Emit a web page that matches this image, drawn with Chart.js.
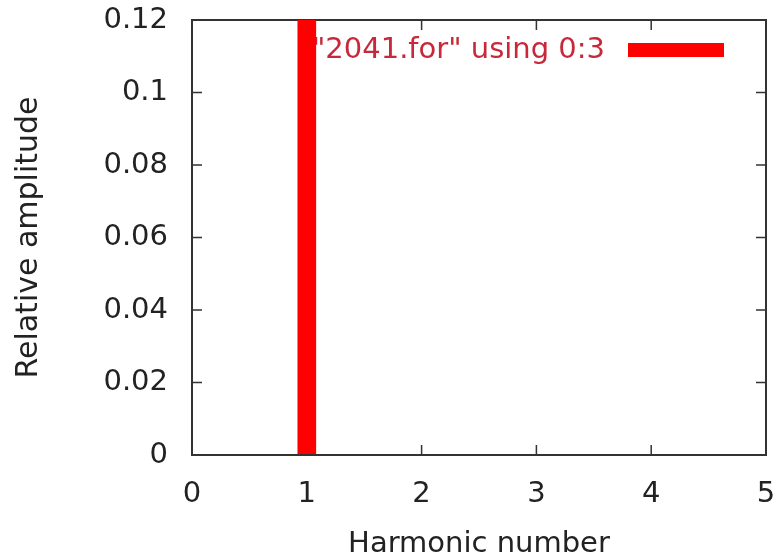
<!DOCTYPE html>
<html><head><meta charset="utf-8">
<script src="https://cdn.jsdelivr.net/npm/chart.js@4/dist/chart.umd.min.js"></script>
<style>html,body{margin:0;padding:0;background:#fff;} canvas{display:block;}</style>
</head><body>
<canvas id="c" width="780" height="558"></canvas>
<script>
const harmonics = [1];
const amplitudes = [1.0];
const seriesLabel = '"2041.for" using 0:3';
const xTickLabels = ['0', '1', '2', '3', '4', '5'];
const yTickLabels = ['0', '0.02', '0.04', '0.06', '0.08', '0.1', '0.12'];
const xTitle = 'Harmonic number';
const yTitle = 'Relative amplitude';

const FONT = "'DejaVu Sans', sans-serif";
const TEXT = '#222';
const FRAME = '#333';
const BAR = '#ff0000';
const KEYTEXT = '#c8283a';

const gnuplotFrame = {
  id: 'gnuplotFrame',
  beforeDatasetsDraw(chart) {
    const { ctx, chartArea: a, scales: { x, y } } = chart;
    ctx.save();
    ctx.strokeStyle = FRAME;
    ctx.lineWidth = 2;
    ctx.strokeRect(a.left, a.top, a.right - a.left, a.bottom - a.top);
    ctx.lineWidth = 1.5;
    const L = 10;
    ctx.beginPath();
    x.ticks.forEach(t => {
      const px = x.getPixelForValue(t.value);
      ctx.moveTo(px, a.bottom); ctx.lineTo(px, a.bottom - L);
      ctx.moveTo(px, a.top); ctx.lineTo(px, a.top + L);
    });
    y.ticks.forEach(t => {
      const py = y.getPixelForValue(t.value);
      ctx.moveTo(a.left, py); ctx.lineTo(a.left + L, py);
      ctx.moveTo(a.right, py); ctx.lineTo(a.right - L, py);
    });
    ctx.stroke();
    // gnuplot-style key
    const ds = chart.data.datasets[0];
    const keyY = a.top + 30;
    const sampleR = a.right - 42, sampleL = sampleR - 96;
    ctx.font = '29px ' + FONT;
    ctx.fillStyle = KEYTEXT;
    ctx.textAlign = 'right';
    ctx.textBaseline = 'middle';
    ctx.fillText(ds.label, sampleL - 23, keyY);
    ctx.strokeStyle = ds.backgroundColor;
    ctx.lineWidth = 14;
    ctx.lineCap = 'butt';
    ctx.beginPath(); ctx.moveTo(sampleL, keyY); ctx.lineTo(sampleR, keyY); ctx.stroke();
    ctx.restore();
  },
  afterDatasetsDraw(chart) {
    const { ctx, chartArea: a } = chart;
    ctx.save();
    ctx.strokeStyle = FRAME;
    ctx.lineWidth = 2;
    ctx.beginPath(); ctx.moveTo(a.left, a.bottom); ctx.lineTo(a.right, a.bottom); ctx.stroke();
    ctx.restore();
  }
};

new Chart(document.getElementById('c'), {
  type: 'bar',
  data: {
    datasets: [{
      label: seriesLabel,
      data: harmonics.map((h, i) => ({ x: h, y: amplitudes[i] })),
      backgroundColor: BAR,
      borderWidth: 0,
      barThickness: 18
    }]
  },
  options: {
    responsive: false,
    animation: false,
    layout: { padding: { left: 0, top: 20, right: 14, bottom: 0 } },
    plugins: { legend: { display: false }, tooltip: { enabled: false } },
    scales: {
      x: {
        type: 'linear', min: 0, max: 5, offset: false,
        grid: { display: false }, border: { display: false },
        ticks: { stepSize: 1, color: TEXT, font: { family: FONT, size: 29 }, padding: 14,
                 maxRotation: 0, autoSkip: false, callback: (v, i) => xTickLabels[i] },
        title: { display: true, text: xTitle, color: TEXT, font: { family: FONT, size: 29 },
                 padding: { top: 0, bottom: -4 } },
        afterFit(s) { s.height = 103; s.paddingLeft = 0; s.paddingRight = 0; }
      },
      y: {
        min: 0, max: 0.12,
        grid: { display: false }, border: { display: false },
        ticks: { stepSize: 0.02, color: TEXT, font: { family: FONT, size: 29 }, padding: 16,
                 callback: (v, i) => yTickLabels[i] },
        title: { display: true, text: yTitle, color: TEXT, font: { family: FONT, size: 30 },
                 padding: 11 },
        afterFit(s) { s.width = 192; s.paddingTop = 0; s.paddingBottom = 0; }
      }
    }
  },
  plugins: [gnuplotFrame]
});
</script>
</body></html>
